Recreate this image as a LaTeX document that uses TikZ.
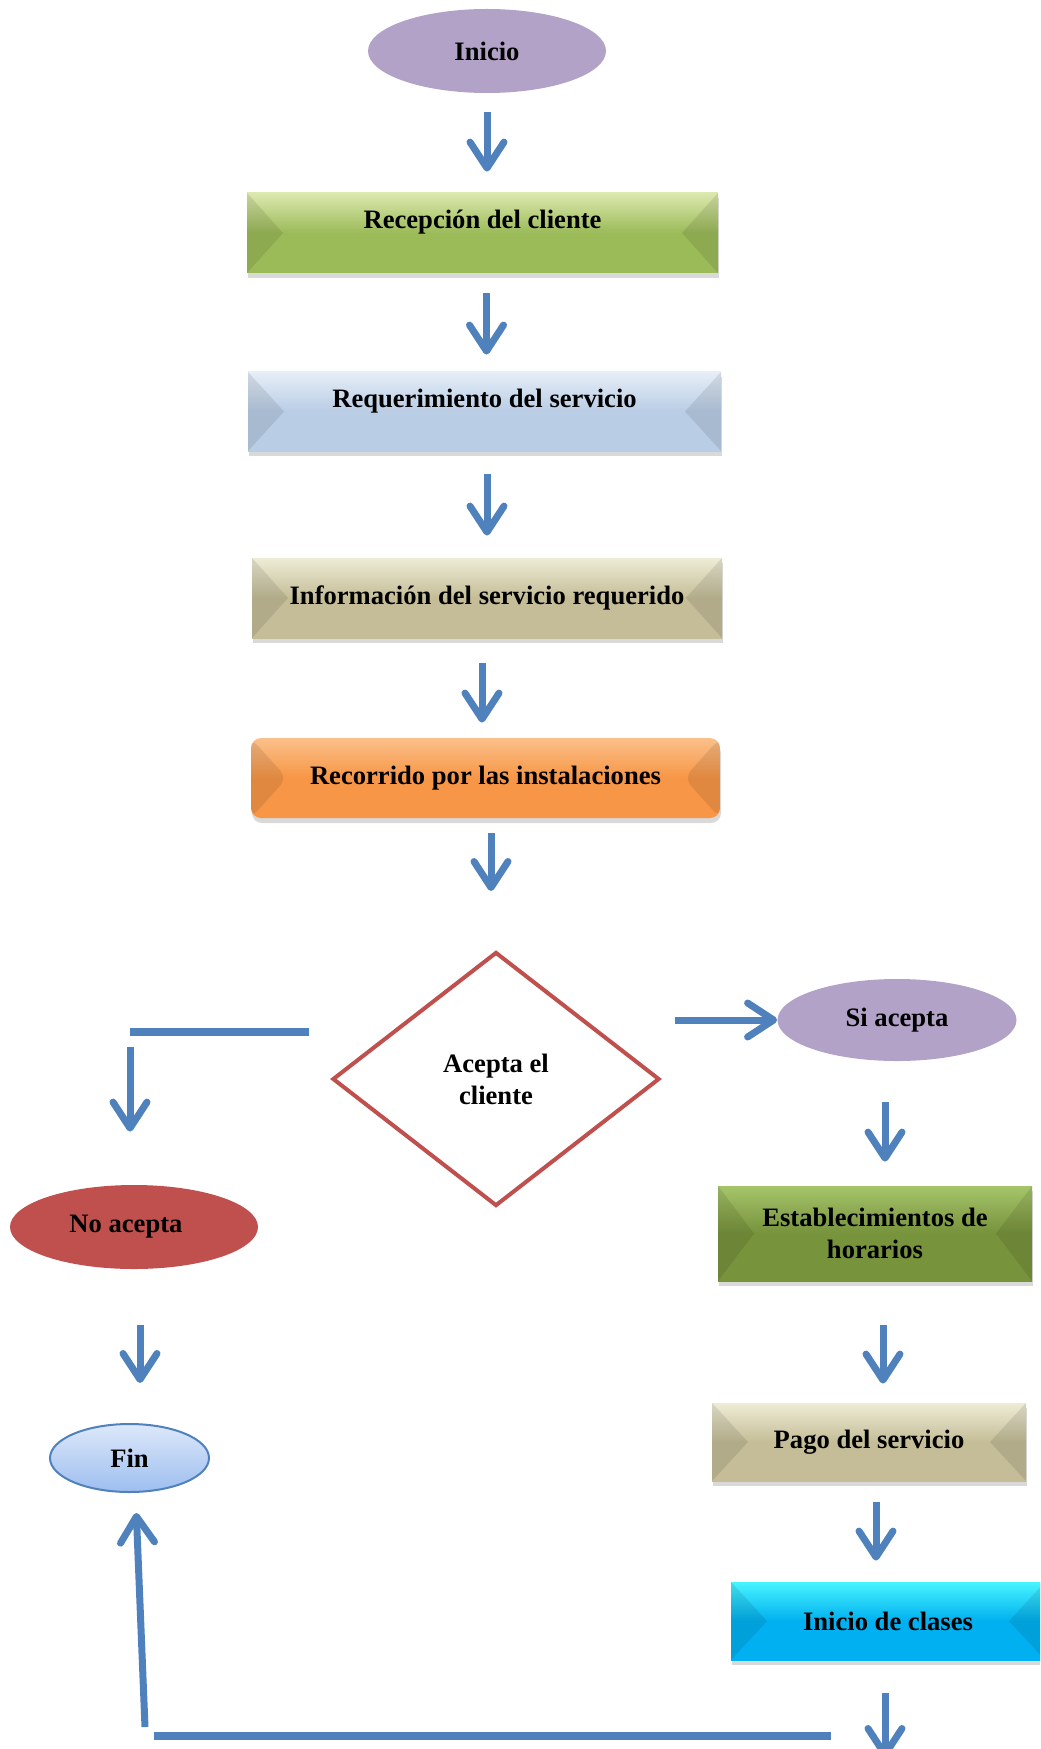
\documentclass[tikz,border=0pt]{standalone}
\usepackage{fontspec}
\setmainfont{Liberation Serif}
\usetikzlibrary{positioning,shadows,arrows.meta,shapes.geometric,calc}
\definecolor{arrowc}{HTML}{4F81BD}
\definecolor{purpleF}{HTML}{B3A2C7}
\definecolor{greenF}{HTML}{9BBB59}
\definecolor{greenL}{HTML}{DCE8AE}
\definecolor{blueF}{HTML}{B9CDE5}
\definecolor{blueL}{HTML}{E6EEF8}
\definecolor{tanF}{HTML}{C4BD97}
\definecolor{tanL}{HTML}{EEECD6}
\definecolor{orangeF}{HTML}{F79646}
\definecolor{orangeL}{HTML}{FBC08A}
\definecolor{dgreenF}{HTML}{77933C}
\definecolor{dgreenL}{HTML}{A6C46A}
\definecolor{cyanF}{HTML}{00B0F0}
\definecolor{cyanL}{HTML}{48F4FF}
\definecolor{redF}{HTML}{C0504D}
\definecolor{finA}{HTML}{DDE8FA}
\definecolor{finB}{HTML}{9DBEEF}

\begin{document}
\begin{tikzpicture}[x=0.5pt,y=-0.5pt,font=\bfseries\fontsize{13.3}{16}\selectfont]
\tikzstyle{flow} = [draw=arrowc,line width=3.5pt,-{Straight Barb[length=13pt,width=17pt,round]}]
\tikzstyle{flowline} = [draw=arrowc,line width=4pt]
\tikzstyle{boxshadow} = [drop shadow={opacity=.3,shadow xshift=0.5pt,shadow yshift=-2.5pt}]
\tikzstyle{oval} = [ellipse,inner sep=0pt]
\tikzstyle{box} = [rectangle,inner sep=2pt,align=center,boxshadow,
  path picture={
    \fill[black,opacity=.09] (path picture bounding box.north west) -- ([xshift=18pt]path picture bounding box.west) -- (path picture bounding box.south west) -- cycle;
    \fill[black,opacity=.09] (path picture bounding box.north east) -- ([xshift=-18pt]path picture bounding box.east) -- (path picture bounding box.south east) -- cycle;
  }]
\tikzstyle{raisedtext} = [text height=9pt,text depth=13pt]
\tikzstyle{bxgreen} = [box,top color=greenL,bottom color=greenF,middle color=greenF]
\tikzstyle{bxblue} = [box,top color=blueL,bottom color=blueF,middle color=blueF]
\tikzstyle{bxtan} = [box,top color=tanL,bottom color=tanF,middle color=tanF]
\tikzstyle{bxorange} = [box,top color=orangeL,bottom color=orangeF,middle color=orangeF]
\tikzstyle{bxdgreen} = [box,top color=dgreenL,bottom color=dgreenF,middle color=dgreenF]
\tikzstyle{bxcyan} = [box,top color=cyanL,bottom color=cyanF,middle color=cyanF]
\clip (0,0) rectangle (1040,1749);
% main column
\node[oval,fill=purpleF,minimum width=119pt,minimum height=42pt] (inicio) at (487,51) {Inicio};
\node[bxgreen,raisedtext,minimum width=235.5pt,minimum height=40pt] (recep) at (482.5,233) {Recepción del cliente};
\node[bxblue,raisedtext,minimum width=236.5pt,minimum height=39.5pt] (requer) at (484.5,411.5) {Requerimiento del servicio};
\node[bxtan,minimum width=235pt,minimum height=40pt] (info) at (487,598) {Información del servicio requerido};
\node[bxorange,rounded corners=5pt,minimum width=234.5pt,minimum height=40pt] (recorr) at (485.5,778) {Recorrido por las instalaciones};
\node[diamond,draw=redF,line width=2pt,fill=white,inner sep=0pt,minimum width=163.5pt,minimum height=127pt,align=center] (decision) at (496,1079) {Acepta el\\cliente};
% branches
\node[oval,fill=purpleF,minimum width=119.5pt,minimum height=41pt] (siacepta) at (897,1020) {Si acepta};
\node[oval,fill=redF,minimum width=124pt,minimum height=42pt] (noacepta) at (134,1227) {\hspace*{-8pt}No acepta};
\node[bxdgreen,minimum width=157pt,minimum height=47.5pt] (establ) at (875,1233.5) {Establecimientos de\\horarios};
\node[oval,draw=arrowc,line width=1pt,top color=finA,bottom color=finB,minimum width=79.5pt,minimum height=34pt] (fin) at (129.5,1458) {Fin};
\node[bxtan,minimum width=157pt,minimum height=39pt] (pago) at (869,1442) {Pago del servicio};
\node[bxcyan,minimum width=157pt,minimum height=39pt] (clases) at (888,1621) {Inicio de clases};
% arrows
\draw[flow,shorten <=9.5pt,shorten >=10.5pt] (inicio.south) -- (inicio.south |- recep.north);
\draw[flow,shorten <=10pt,shorten >=8.5pt] ([xshift=2pt]recep.south) -- ([xshift=2pt]recep.south |- requer.north);
\draw[flow,shorten <=11.5pt,shorten >=11pt] ([xshift=1.25pt]requer.south) -- ([xshift=1.25pt]requer.south |- info.north);
\draw[flow,shorten <=12.5pt,shorten >=7.5pt] ([xshift=-2.5pt]info.south) -- ([xshift=-2.5pt]info.south |- recorr.north);
\draw[flow,shorten <=7.5pt,shorten >=29.5pt] ([xshift=2.75pt]recorr.south) -- ([xshift=2.75pt]recorr.south |- decision.north);
\coordinate (nocorner) at (130,1032);
\draw[flowline] ([xshift=-11pt]decision.west |- nocorner) -- (nocorner);
\draw[flow,shorten <=7.5pt,shorten >=26.5pt] (nocorner) -- (nocorner |- noacepta.north);
\draw[flow,shorten <=6.5pt] (decision.east |- siacepta.west) -- (siacepta.west);
\draw[flow,shorten <=20.5pt,shorten >=12pt] ([xshift=-6pt]siacepta.south) -- ([xshift=-6pt]siacepta.south |- establ.north);
\draw[flow,shorten <=22pt,shorten >=9.5pt] ([xshift=4pt]establ.south) -- ([xshift=4pt]establ.south |- pago.north);
\draw[flow,shorten <=10.5pt,shorten >=10.5pt] ([xshift=3.5pt]pago.south) -- ([xshift=3.5pt]pago.south |- clases.north);
\coordinate (clasesend) at (885,1758);
\draw[flow,shorten <=16.5pt] (clases.south -| clasesend) -- (clasesend);
\draw[flow,shorten <=28pt,shorten >=20pt] ([xshift=3pt]noacepta.south) -- ([xshift=3pt]noacepta.south |- fin.north);
% return line
\coordinate (backR) at (831,1736);
\coordinate (backL) at (154,1736);
\coordinate (backup) at (145,1727);
\draw[flowline] (backR) -- (backL);
\draw[flow,shorten >=10pt] (backup) -- ([xshift=3pt]fin.south);
\end{tikzpicture}
\end{document}
